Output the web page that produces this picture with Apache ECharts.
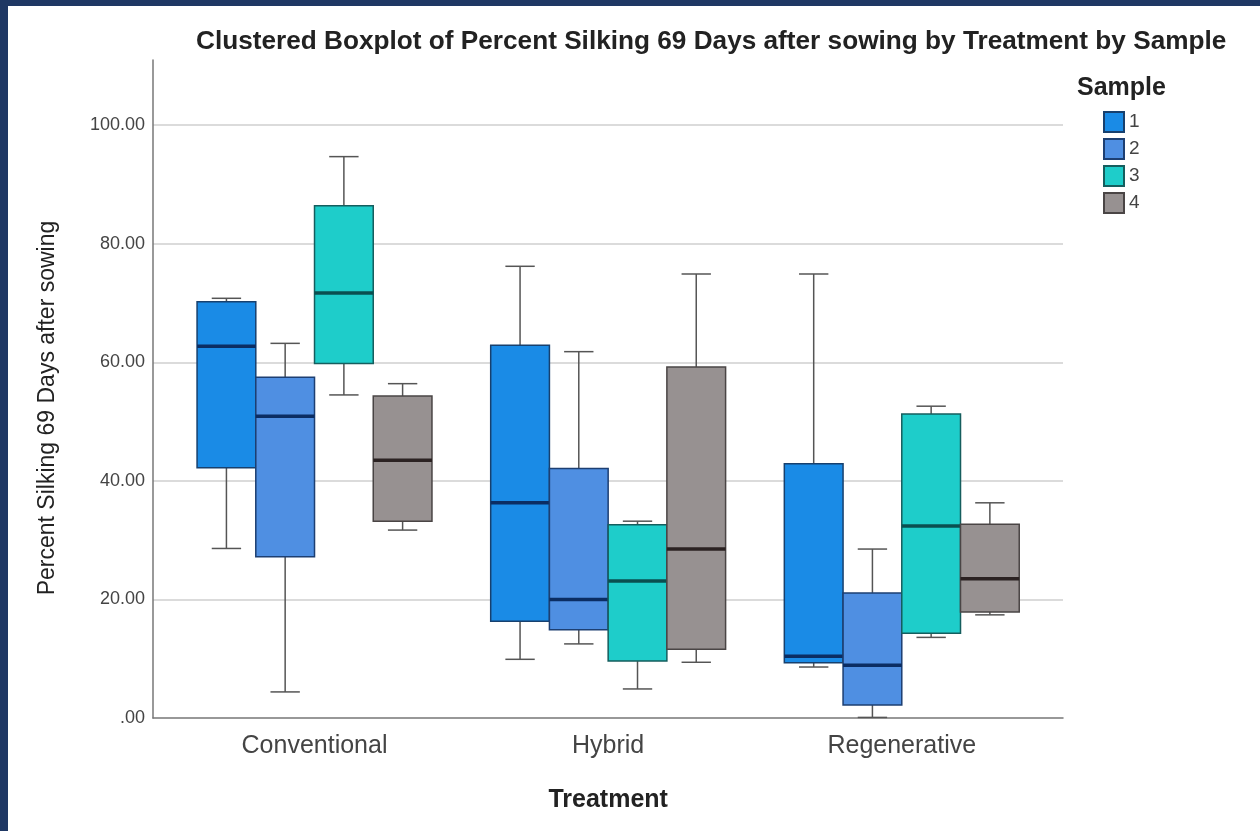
<!DOCTYPE html>
<html>
<head>
<meta charset="utf-8">
<script src="https://cdn.jsdelivr.net/npm/echarts@6/dist/echarts.min.js"></script>
<style>
  html, body { margin: 0; padding: 0; background: #1f3864; }
  #chart { position: absolute; left: 8px; top: 6px; width: 1252px; height: 825px; background: #fff; }
</style>
</head>
<body>
<div id="chart"></div>
<script>
// data: [min, q1, median, q3, max] per treatment
var treatments = ['Conventional', 'Hybrid', 'Regenerative'];
var samples = ['1', '2', '3', '4'];
var sample1 = [[28.6, 42.2, 62.7, 70.2, 70.8], [9.9, 16.3, 36.3, 62.9, 76.2], [8.6, 9.3, 10.4, 42.9, 74.9]];
var sample2 = [[4.4, 27.2, 50.9, 57.5, 63.2], [12.5, 14.9, 20.0, 42.1, 61.8], [0.1, 2.2, 8.9, 21.1, 28.5]];
var sample3 = [[54.5, 59.8, 71.7, 86.4, 94.7], [4.9, 9.6, 23.1, 32.6, 33.2], [13.6, 14.3, 32.4, 51.3, 52.6]];
var sample4 = [[31.7, 33.2, 43.5, 54.3, 56.4], [9.4, 11.6, 28.5, 59.2, 74.9], [17.4, 17.9, 23.5, 32.7, 36.3]];
var yTicks = [0, 20, 40, 60, 80, 100];

var fills = ['#1a8be6', '#4f8fe2', '#1ecdca', '#979191'];
var borders = ['#17406e', '#1d3f72', '#155e5e', '#4a4545'];
var medians = ['#0b2d63', '#0b2d63', '#0a4f50', '#2b2222'];
var font = 'Liberation Sans, Arial, sans-serif';

var chart = echarts.init(document.getElementById('chart'));

function renderBox(params, api) {
	var s = params.seriesIndex;
	var cat = api.value(0);
	var band = api.size([1, 0])[0];
	var boxW = band * 0.2;
	var cx = api.coord([cat, 0])[0] + (s - 1.5) * boxW;
	var yMin = api.coord([cat, api.value(1)])[1];
	var yQ1 = api.coord([cat, api.value(2)])[1];
	var yMed = api.coord([cat, api.value(3)])[1];
	var yQ3 = api.coord([cat, api.value(4)])[1];
	var yMax = api.coord([cat, api.value(5)])[1];
	var cap = boxW * 0.5;
	var whisker = { stroke: '#555', lineWidth: 1.5 };
	return {
		type: 'group',
		children: [
			{ type: 'line', shape: { x1: cx, y1: yQ3, x2: cx, y2: yMax }, style: whisker },
			{ type: 'line', shape: { x1: cx, y1: yQ1, x2: cx, y2: yMin }, style: whisker },
			{ type: 'line', shape: { x1: cx - cap / 2, y1: yMax, x2: cx + cap / 2, y2: yMax }, style: whisker },
			{ type: 'line', shape: { x1: cx - cap / 2, y1: yMin, x2: cx + cap / 2, y2: yMin }, style: whisker },
			{ type: 'rect', shape: { x: cx - boxW / 2, y: yQ3, width: boxW, height: yQ1 - yQ3 },
				style: { fill: fills[s], stroke: borders[s], lineWidth: 1.5 } },
			{ type: 'line', shape: { x1: cx - boxW / 2, y1: yMed, x2: cx + boxW / 2, y2: yMed },
				style: { stroke: medians[s], lineWidth: 3.5 } }
		]
	};
}

var sampleData = [sample1, sample2, sample3, sample4];
var series = sampleData.map(function (rows, i) {
	return {
		name: samples[i],
		type: 'custom',
		xAxisIndex: 1,
		yAxisIndex: 1,
		renderItem: renderBox,
		itemStyle: { color: fills[i], borderColor: borders[i], borderWidth: 1.5 },
		encode: { x: 0, y: [1, 2, 3, 4, 5] },
		data: rows.map(function (r, j) { return [j].concat(r); })
	};
});

var option = {
	animation: false,
	textStyle: { fontFamily: font },
	title: [{
		text: 'Clustered Boxplot of Percent Silking 69 Days after sowing by Treatment by Sample',
		left: 183,
		top: 18,
		textStyle: { fontSize: 26.2, fontWeight: 'bold', color: '#222', fontFamily: font }
	}, {
		text: 'Sample',
		left: 1064,
		top: 65,
		textStyle: { fontSize: 25, fontWeight: 'bold', color: '#222', fontFamily: font }
	}],
	legend: {
		orient: 'vertical',
		left: 1095,
		top: 105,
		padding: 0,
		itemWidth: 20,
		itemHeight: 20,
		itemGap: 5,
		icon: 'rect',
		textStyle: { fontSize: 19, lineHeight: 20, color: '#444' },
		data: samples
	},
	grid: [
		{ left: 145, top: 54, right: 197, bottom: 113 },
		{ left: 159.7, top: 54, right: 211.4, bottom: 113 }
	],
	xAxis: [{
		type: 'value',
		gridIndex: 0,
		min: 0,
		max: 1,
		axisLine: { show: true, lineStyle: { color: '#777', width: 1.5 } },
		axisTick: { show: false },
		axisLabel: { show: false },
		splitLine: { show: false }
	}, {
		type: 'category',
		gridIndex: 1,
		data: treatments,
		axisLine: { show: false },
		axisTick: { show: false },
		axisLabel: { fontSize: 25, color: '#444', margin: 16 },
		name: 'Treatment',
		nameLocation: 'middle',
		nameGap: 70,
		nameTextStyle: { fontSize: 25, fontWeight: 'bold', color: '#222' }
	}],
	yAxis: [{
		type: 'value',
		gridIndex: 0,
		min: yTicks[0],
		max: 111,
		interval: 20,
		axisLine: { show: true, lineStyle: { color: '#777', width: 1.5 } },
		axisTick: { show: false },
		axisLabel: {
			fontSize: 18,
			color: '#444',
			margin: 8,
			showMaxLabel: false,
			formatter: function (v) { return v === 0 ? '.00' : v.toFixed(2); }
		},
		splitLine: { show: true, showMaxLine: false, showMinLine: false, lineStyle: { color: '#cfcfcf', width: 1.5 } }
	}, {
		type: 'value',
		gridIndex: 1,
		min: yTicks[0],
		max: 111,
		show: false
	}],
	graphic: [{
		type: 'text',
		x: 40,
		y: 402,
		rotation: Math.PI / 2,
		style: {
			text: 'Percent Silking 69 Days after sowing',
			fontSize: 23,
			fontFamily: font,
			fill: '#222',
			textAlign: 'center',
			textVerticalAlign: 'middle'
		}
	}],
	series: series
};

chart.setOption(option);
</script>
</body>
</html>
